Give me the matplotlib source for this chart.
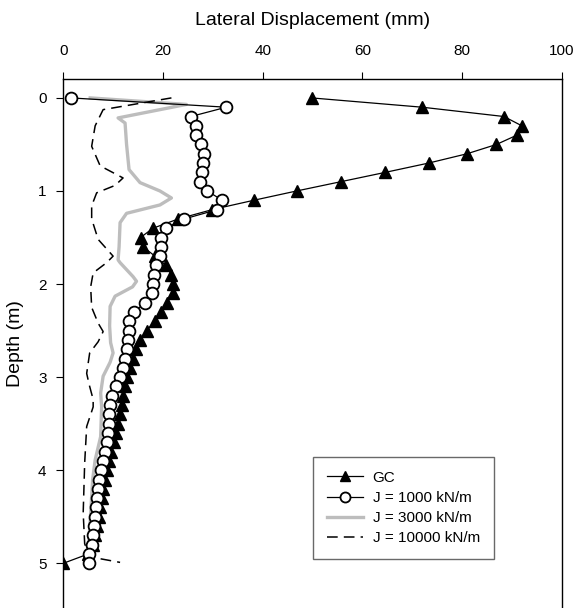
import matplotlib
matplotlib.use('Agg')
import matplotlib.pyplot as plt

plt.rcParams['font.family'] = ['Liberation Sans', 'DejaVu Sans']

# GC (triangles), depth 0 .. 5.0 step 0.1
gc_depth = [i / 10 for i in range(51)]
gc_disp = [49.8, 72.0, 88.4, 92.0, 91.0, 86.9, 81.0, 73.3, 64.6, 55.7,
           46.8, 38.2, 29.9, 23.1, 18.0, 15.5, 16.0, 18.4, 20.6, 21.7,
           22.0, 22.0, 20.8, 19.7, 18.4, 16.7, 15.4, 14.6, 13.9, 13.4,
           12.8, 12.4, 12.0, 11.7, 11.4, 11.0, 10.6, 10.1, 9.6, 9.1,
           8.7, 8.3, 8.0, 7.7, 7.4, 7.1, 6.8, 6.4, 6.0, 5.0,
           0.0]

# J = 1000 kN/m (open circles)
j1000_depth = [i / 10 for i in range(51)]
j1000_disp = [1.5, 32.7, 25.6, 26.7, 26.7, 27.6, 28.2, 28.1, 27.8, 27.4,
              28.9, 31.9, 30.9, 24.3, 20.6, 19.7, 19.6, 19.4, 18.7, 18.2,
              18.0, 17.9, 16.4, 14.2, 13.2, 13.2, 13.0, 12.7, 12.4, 11.9,
              11.4, 10.6, 9.8, 9.4, 9.2, 9.2, 9.0, 8.7, 8.4, 7.9,
              7.5, 7.2, 7.0, 6.7, 6.6, 6.4, 6.2, 5.9, 5.7, 5.2,
              5.2]

# J = 3000 kN/m (grey line)
j3000_disp = [5.4, 24.7, 11.0, 12.4, 12.7, 13.2, 15.4, 19.4, 21.7, 19.4,
              12.7, 11.4, 11.2, 11.0, 11.4, 14.0, 14.7, 13.9, 10.4, 9.4,
              9.3, 9.5, 10.0, 9.4, 8.0, 7.5, 7.7, 7.5, 6.4, 5.9,
              5.5, 5.2, 5.0]
j3000_depth = [0.0, 0.07, 0.215, 0.27, 0.5, 0.77, 0.91, 1.0, 1.075, 1.15,
               1.24, 1.34, 1.6, 1.74, 1.77, 1.92, 1.97, 2.03, 2.13, 2.24,
               2.45, 2.63, 2.74, 2.84, 2.99, 3.17, 3.32, 3.64, 3.89, 4.1,
               4.46, 4.72, 4.98]

# J = 10000 kN/m (dashed)
j10000_disp = [21.7, 8.0, 6.4, 5.7, 7.4, 12.0, 10.4, 6.7, 5.7, 5.7,
               7.0, 10.0, 8.7, 6.0, 5.5, 5.7, 7.0, 8.0, 7.0, 5.3,
               4.7, 5.2, 6.0, 6.0, 4.7, 4.3, 4.0, 4.3, 5.3, 11.4]
j10000_depth = [0.0, 0.126, 0.3, 0.52, 0.73, 0.86, 0.94, 1.02, 1.16, 1.3,
                1.52, 1.70, 1.77, 1.88, 2.03, 2.25, 2.42, 2.51, 2.62, 2.74,
                2.96, 3.08, 3.24, 3.32, 3.53, 3.92, 4.46, 4.79, 4.93, 4.99]

fig = plt.figure(figsize=(5.75, 6.08), dpi=100)
ax = fig.add_axes([0.110, 0.0, 0.867, 0.8696])

ax.plot(gc_disp, gc_depth, color='black', lw=0.9, marker='^', ms=8.5,
        mfc='black', mec='black', label='GC', zorder=3)
ax.plot(j1000_disp, j1000_depth, color='black', lw=0.9, marker='o', ms=8.5,
        mfc='white', mec='black', mew=1.3, label='J = 1000 kN/m', zorder=4)
ax.plot(j3000_disp, j3000_depth, color='#bdbdbd', lw=2.4,
        label='J = 3000 kN/m', zorder=2)
ax.plot(j10000_disp, j10000_depth, color='black', lw=1.1, dashes=(7, 4),
        label='J = 10000 kN/m', zorder=2)

ax.set_xlim(0, 100)
ax.set_ylim(5.48, -0.2)
ax.xaxis.tick_top()
ax.xaxis.set_label_position('top')
ax.set_xticks([0, 20, 40, 60, 80, 100])
ax.set_yticks([0, 1, 2, 3, 4, 5])
ax.tick_params(direction='out', length=5, width=0.8, labelsize=11, pad=7)
ax.tick_params(axis='x', pad=10)
ax.spines['bottom'].set_visible(False)
for s in ['top', 'left', 'right']:
    ax.spines[s].set_linewidth(1.0)

ax.set_xlabel('Lateral Displacement (mm)', fontsize=14, labelpad=14)
ax.set_ylabel('Depth (m)', fontsize=14, labelpad=10)

leg = ax.legend(loc='lower left', bbox_to_anchor=(0.501, 0.093),
                fontsize=11, frameon=True, fancybox=False, edgecolor='#444444',
                handlelength=2.4, labelspacing=0.4, borderpad=0.9,
                handletextpad=0.6, borderaxespad=0.0, markerscale=0.85)
leg.get_frame().set_linewidth(1.0)

fig.savefig('out.png', dpi=100)
